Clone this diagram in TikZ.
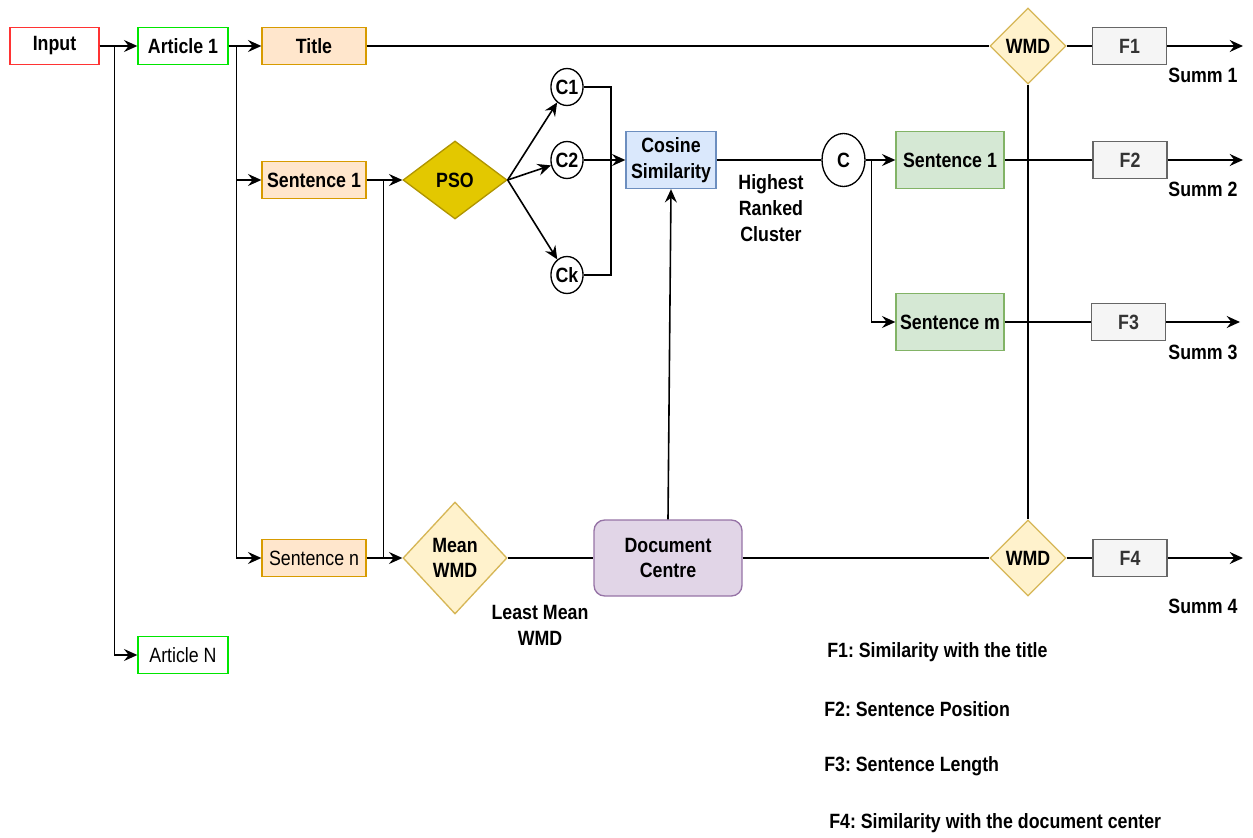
\documentclass[tikz,border=0pt]{standalone}
\usepackage{fontspec}
\setmainfont{Liberation Sans}[FakeStretch=0.86]
\usetikzlibrary{shapes.geometric,arrows.meta,calc}
\frenchspacing
\definecolor{redb}{HTML}{FF3333}
\definecolor{greenb}{HTML}{00E600}
\definecolor{orf}{HTML}{FFE6CC}
\definecolor{orb}{HTML}{D79B00}
\definecolor{yef}{HTML}{FFF2CC}
\definecolor{yeb}{HTML}{D6B656}
\definecolor{psof}{HTML}{E3C800}
\definecolor{psob}{HTML}{B09500}
\definecolor{blf}{HTML}{DAE8FC}
\definecolor{blb}{HTML}{6C8EBF}
\definecolor{grf}{HTML}{D5E8D4}
\definecolor{grb}{HTML}{82B366}
\definecolor{gyf}{HTML}{F5F5F5}
\definecolor{gyb}{HTML}{666666}
\definecolor{puf}{HTML}{E1D5E7}
\definecolor{pub}{HTML}{9673A6}
\tikzset{
  every node/.style={font=\fontsize{15.5}{19}\selectfont\bfseries, align=center, inner sep=0pt},
  line/.style={line width=1.2pt, draw=black},
  arr/.style={line, -{Stealth[length=10pt,width=9pt,inset=3.5pt]}},
  boxn/.style={draw, line width=1pt, minimum width=#1*0.75pt, minimum height=37*0.75pt},
  inbox/.style={boxn=89, draw=redb, fill=white},
  artbox/.style={boxn=90, draw=greenb, fill=white},
  orbox/.style={boxn=104, draw=orb, fill=orf},
  fbox/.style={boxn=74, draw=gyb, fill=gyf, text=black!80},
  grbox/.style={draw=grb, fill=grf, line width=1pt, minimum width=108*0.75pt, minimum height=57*0.75pt},
  dia/.style={diamond, draw=yeb, fill=yef, line width=1pt, minimum width=#1*0.75pt, minimum height=#1*0.75pt, aspect=1},
  circ/.style={ellipse, draw, line width=1pt, fill=white, minimum width=32*0.75pt, minimum height=37*0.75pt},
  lbl/.style={font=\fontsize{15.5}{19.5}\selectfont\bfseries},
  plain/.style={font=\fontsize{15.5}{19}\selectfont\mdseries},
}
\begin{document}
\begin{tikzpicture}[x=0.75pt,y=-0.75pt]
\useasboundingbox (0,0) rectangle (1253,838);
% nodes
\node[inbox] (input) at (54.5,46) {Input};
\node[artbox] (art1) at (183,46) {Article 1};
\node[artbox, plain] (artN) at (183,655) {Article N};
\node[orbox] (title) at (314,46) {Title};
\node[orbox] (sent1) at (314,180) {Sentence 1};
\node[orbox, plain] (sentn) at (314,558) {Sentence n};
\node[diamond, draw=psob, fill=psof, line width=1pt, minimum width=104*0.75pt, minimum height=78*0.75pt] (pso) at (455,180) {PSO};
\node[circ] (c1) at (567,87) {C1};
\node[circ] (c2) at (567,160) {C2};
\node[circ] (ck) at (567,275) {Ck};
\node[draw=blb, fill=blf, line width=1pt, minimum width=90*0.75pt, minimum height=57*0.75pt] (cos) at (671,160) {Cosine\\Similarity};
\node[ellipse, draw, line width=1pt, fill=white, minimum width=43*0.75pt, minimum height=53*0.75pt] (c) at (843.5,160) {C};
\node[grbox] (gs1) at (950,160) {Sentence 1};
\node[grbox] (gsm) at (950,322) {Sentence m};
\node[dia=112, minimum width=104*0.75pt, minimum height=112*0.75pt] (mwmd) at (455,558) {Mean\\WMD};
\node[draw=pub, fill=puf, line width=1pt, rounded corners=8pt, minimum width=148*0.75pt, minimum height=76*0.75pt] (doc) at (668,558) {Document\\Centre};
\node[dia=76] (wmd1) at (1028,46) {WMD};
\node[dia=76] (wmd2) at (1028,558) {WMD};
\node[fbox] (f1) at (1129.5,46) {F1};
\node[fbox] (f2) at (1130,160) {F2};
\node[fbox] (f3) at (1128.5,322) {F3};
\node[fbox] (f4) at (1130,558) {F4};
\coordinate (e1) at (1243,46);
\coordinate (e2) at (1243,160);
\coordinate (e3) at (1240,322);
\coordinate (e4) at (1243,558);
% labels
\node[lbl] (s1) at (1203,75) {Summ 1};
\node[lbl] (s2) at (1203,189) {Summ 2};
\node[lbl] (s3) at (1203,352) {Summ 3};
\node[lbl] (s4) at (1203,606) {Summ 4};
\node[lbl] (hrc) at (771,208) {Highest\\Ranked\\Cluster};
\node[lbl] (lmw) at (540,625) {Least Mean\\WMD};
\node[lbl, anchor=west] (l1) at (827,652) {F1: Similarity with the title};
\node[lbl, anchor=west] (l2) at (824,709) {F2: Sentence Position};
\node[lbl, anchor=west] (l3) at (824,766) {F3: Sentence Length};
\node[lbl, anchor=west] (l4) at (829,823) {F4: Similarity with the document center};
% connectors
\draw[arr] (input.east) -- (art1.west);
\draw[arr] (input.east) -| ++(15,0) |- (artN.west);
\draw[arr] (art1.east) -- (title.west);
\draw[arr] (art1.east) -| ++(8,0) |- (sent1.west);
\draw[arr] (art1.east) -| ++(8,0) |- (sentn.west);
\draw[arr] (sent1.east) -- (pso.west);
\draw[arr] (sentn.east) -- (mwmd.west);
\draw[line] (sent1.east) -| ++(17,0) |- (sentn.east);
\draw[line] (title.east) -- (wmd1.west);
\draw[arr] (pso.east) -- (c1);
\draw[arr] (pso.east) -- (c2);
\draw[arr] (pso.east) -- (ck);
\draw[line] (c1.east) -| ++(27,0) |- (ck.east);
\draw[arr] (c2.east) -- (cos.west);
\draw[line] (cos.east) -- (c.west);
\draw[arr] (c.east) -- (gs1.west);
\draw[arr] (c.east) -| ++(6,0) |- (gsm.west);
\draw[line] (gs1.east) -- (f2.west);
\draw[line] (gsm.east) -- (f3.west);
\draw[line] (wmd1.south) -- (wmd2.north);
\draw[line] (mwmd.east) -- (doc.west);
\draw[arr] (doc.north) -- (cos.south);
\draw[line] (doc.east) -- (wmd2.west);
\draw[line] (wmd1.east) -- (f1.west);
\draw[line] (wmd2.east) -- (f4.west);
\draw[arr] (f1.east) -- (e1);
\draw[arr] (f2.east) -- (e2);
\draw[arr] (f3.east) -- (e3);
\draw[arr] (f4.east) -- (e4);
\end{tikzpicture}
\end{document}
